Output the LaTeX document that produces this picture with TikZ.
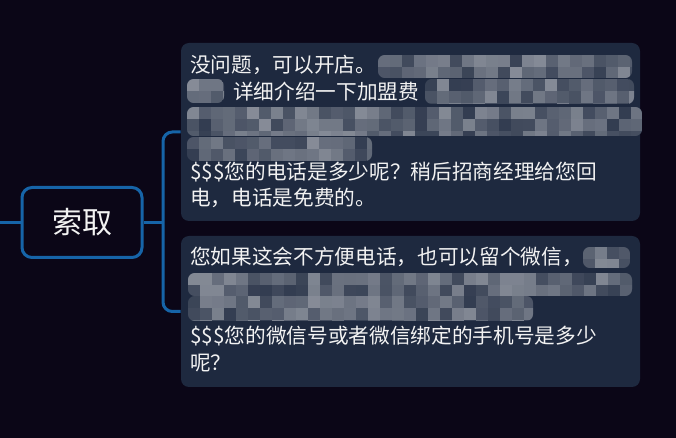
\documentclass[tikz,border=0pt]{standalone}
\usepackage{fontspec}
\setmainfont{Noto Sans CJK SC}
\definecolor{bgdark}{HTML}{0B0617}
\definecolor{cardfill}{HTML}{1E293F}
\definecolor{linkblue}{HTML}{1664A8}
\definecolor{blurgray}{HTML}{A8ACB4}
\definecolor{txtwhite}{HTML}{F2F2F2}
\tikzset{
    topic/.style={draw=linkblue, line width=2.25pt, fill=bgdark, rounded corners=7.5pt,
        minimum width=90pt, minimum height=52.5pt, text=txtwhite, font=\fontsize{22.5}{26}\selectfont},
    card/.style={fill=cardfill, rounded corners=6pt, minimum width=344.25pt},
    line/.style={anchor=base west, inner sep=0pt, text=txtwhite, font=\fontsize{15.5}{20}\selectfont},
    link/.style={draw=linkblue, line width=2.25pt, rounded corners=7pt}
}
% pixelated patch over hidden text
\newcommand\mosaic[4]{%
    \begin{scope}
        \clip[rounded corners=5pt] (#1,#2) rectangle (#3,#4);
        \fill[cardfill] (#1,#2) rectangle (#3,#4);
        \pgfmathsetmacro\mxb{#1+12}
        \pgfmathsetmacro\myb{#2+12}
        \foreach \cx in {#1,\mxb,...,#3} {
            \foreach \cy in {#2,\myb,...,#4} {
                \pgfmathrandominteger{\shd}{15}{75}
                \fill[blurgray!\shd!cardfill] (\cx,\cy) rectangle ++(12.3,12.3);
            }
        }
    \end{scope}}
\begin{document}
\begin{tikzpicture}[x=0.75pt, y=-0.75pt]
    \useasboundingbox (0,0) rectangle (676,438);
    \fill[bgdark] (0,0) rectangle (676,438);
    \pgfmathsetseed{11}

    \node[topic] (suoqu) at (82,222.5) {索取};
    \node[card, minimum height=133.5pt] (phone) at (410.5,132) {};
    \node[card, minimum height=113.25pt] (wechat) at (410.5,311.5) {};

    % hidden parts
    \mosaic{378}{55}{632}{78}
    \mosaic{187}{79}{224}{103}
    \mosaic{425}{79}{634}{104}
    \mosaic{187}{107}{642}{136}
    \mosaic{187}{137}{372}{161}
    \mosaic{583}{247}{630}{268}
    \mosaic{188}{273}{632}{296}
    \mosaic{188}{296}{533}{321}

    \node[line] (p1) at (190,73) {没问题，可以开店。};
    \node[line] (p2) at (233,99.5) {详细介绍一下加盟费};
    \node[line] (p5) at (190,180) {\$\$\$您的电话是多少呢？稍后招商经理给您回};
    \node[line] (p6) at (190,206) {电，电话是免费的。};
    \node[line] (w1) at (190,265) {您如果这会不方便电话，也可以留个微信，};
    \node[line] (w4) at (190,344) {\$\$\$您的微信号或者微信绑定的手机号是多少};
    \node[line] (w5) at (190,371) {呢？};

    \coordinate (stub) at (0,222.5);
    \coordinate (fork) at (163,222.5);
    \draw[link] (stub) -- (suoqu.west);
    \draw[link] (suoqu.east) -- (fork);
    \draw[link] (phone.west) -| (fork) |- (wechat.west);
\end{tikzpicture}
\end{document}
